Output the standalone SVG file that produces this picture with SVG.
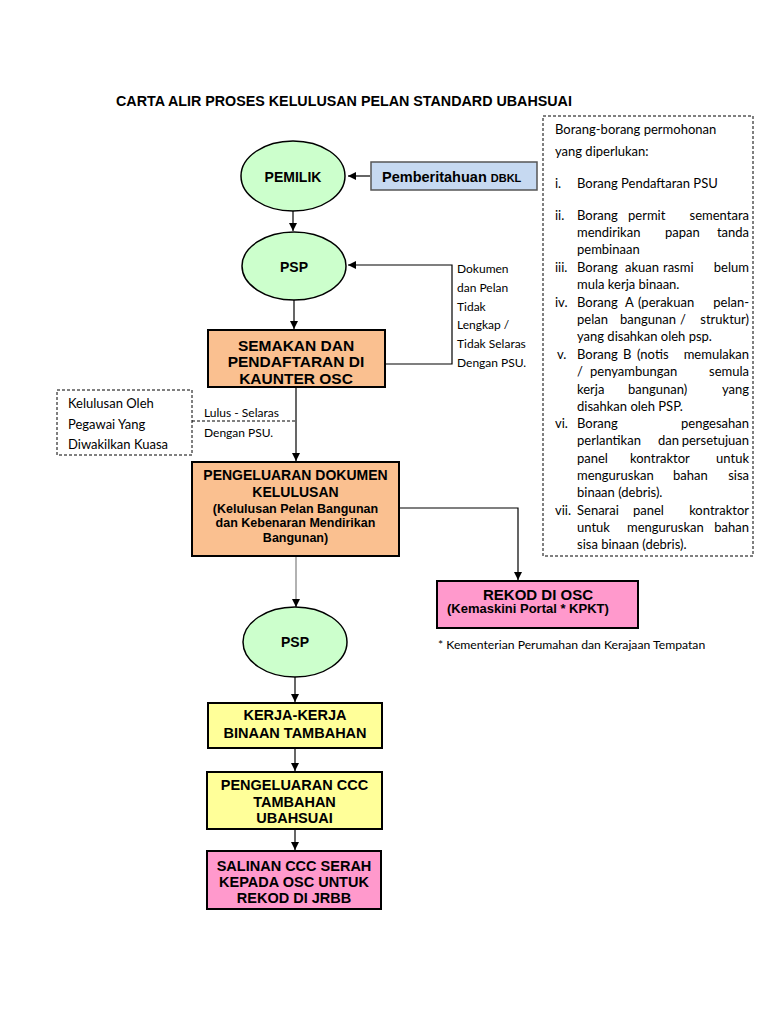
<svg xmlns="http://www.w3.org/2000/svg" width="768" height="1024" viewBox="0 0 768 1024">
<style>
.bg{fill:#ffffff}
.ell{fill:#ccffcc;stroke:#000;stroke-width:1.5}
.org{fill:#fac090;stroke:#000;stroke-width:2}
.yel{fill:#ffff99;stroke:#000;stroke-width:2}
.pnk{fill:#ff99cc;stroke:#000;stroke-width:2}
.blu{fill:#c6d9f1;stroke:#555;stroke-width:1.5}
.dash{fill:none;stroke:#000;stroke-width:1;stroke-dasharray:3 2}
.h{font-family:"Liberation Sans",Arial,sans-serif;font-weight:bold;fill:#000}
.c{text-anchor:middle}
.t{font-family:Lato,"Liberation Sans",sans-serif;fill:#000}
.e{text-anchor:end}
.ln{fill:none;stroke:#000;stroke-width:1.2}
.gr{fill:none;stroke:#999;stroke-width:1.5}
.dl{fill:none;stroke:#000;stroke-width:1;stroke-dasharray:3 2}
</style>
<defs>
<marker id="ah" markerUnits="userSpaceOnUse" markerWidth="9" markerHeight="9" refX="8" refY="4" orient="auto">
<path d="M0,0 L8,4 L0,8 z" fill="#000"/>
</marker>
</defs>
<rect class="bg" x="0" y="0" width="768" height="1024"/>

<text class="h" x="116" y="106" font-size="14.3">CARTA ALIR PROSES KELULUSAN PELAN STANDARD UBAHSUAI</text>

<g id="connectors">
<line class="ln" x1="370" y1="176" x2="348" y2="176" marker-end="url(#ah)"/>
<line class="ln" x1="293" y1="211" x2="293" y2="231" marker-end="url(#ah)"/>
<line class="ln" x1="294" y1="300" x2="294" y2="329" marker-end="url(#ah)"/>
<polyline class="ln" points="385,364 452,364 452,265 348,265" marker-end="url(#ah)"/>
<line class="ln" x1="296" y1="387" x2="296" y2="461" marker-end="url(#ah)"/>
<line class="dl" x1="192" y1="421" x2="296" y2="421"/>
<polyline class="ln" points="399,508 518,508 518,580" marker-end="url(#ah)"/>
<line class="gr" x1="296" y1="556" x2="296" y2="600"/>
<line class="ln" x1="296" y1="599" x2="296" y2="607" marker-end="url(#ah)"/>
<line class="ln" x1="295" y1="677" x2="295" y2="702" marker-end="url(#ah)"/>
<line class="ln" x1="295" y1="748" x2="295" y2="771" marker-end="url(#ah)"/>
<line class="ln" x1="295" y1="829" x2="295" y2="850" marker-end="url(#ah)"/>
</g>

<g id="pemilik">
<ellipse class="ell" cx="293" cy="176" rx="52" ry="35"/>
<text class="h c" x="293" y="182" font-size="14">PEMILIK</text>
</g>

<g id="pemberitahuan">
<rect class="blu" x="371" y="162" width="166" height="28"/>
<text class="h" x="382" y="182" font-size="14.5">Pemberitahuan <tspan font-size="11">DBKL</tspan></text>
</g>

<g id="psp1">
<ellipse class="ell" cx="294" cy="266" rx="52" ry="34"/>
<text class="h c" x="294" y="271.5" font-size="14">PSP</text>
</g>

<g id="semakan">
<rect class="org" x="208" y="330" width="177" height="57"/>
<text class="h c" x="296" y="350.5" font-size="15.5">SEMAKAN DAN</text>
<text class="h c" x="296" y="367" font-size="15.5">PENDAFTARAN DI</text>
<text class="h c" x="296" y="383.5" font-size="15.5">KAUNTER OSC</text>
</g>

<g id="nota-dokumen">
<text class="t" x="457" y="273" font-size="12">Dokumen</text>
<text class="t" x="457" y="292" font-size="12">dan Pelan</text>
<text class="t" x="457" y="311" font-size="12">Tidak</text>
<text class="t" x="457" y="329" font-size="12">Lengkap /</text>
<text class="t" x="457" y="348" font-size="12">Tidak Selaras</text>
<text class="t" x="457" y="367" font-size="12">Dengan PSU.</text>
</g>

<g id="kelulusan-pegawai">
<rect class="dash" x="57" y="390" width="135" height="65"/>
<text class="t" x="68" y="408" font-size="13">Kelulusan Oleh</text>
<text class="t" x="68" y="429" font-size="13">Pegawai Yang</text>
<text class="t" x="68" y="449" font-size="13">Diwakilkan Kuasa</text>
</g>

<g id="nota-lulus">
<text class="t" x="204" y="417" font-size="12">Lulus - Selaras</text>
<text class="t" x="204" y="437" font-size="12">Dengan PSU.</text>
</g>

<g id="pengeluaran-dokumen">
<rect class="org" x="192" y="462" width="207" height="94"/>
<text class="h c" x="295.5" y="480" font-size="14">PENGELUARAN DOKUMEN</text>
<text class="h c" x="295.5" y="497" font-size="14">KELULUSAN</text>
<text class="h c" x="295.5" y="512.5" font-size="12.5">(Kelulusan Pelan Bangunan</text>
<text class="h c" x="295.5" y="526.5" font-size="12.5">dan Kebenaran Mendirikan</text>
<text class="h c" x="295.5" y="541.5" font-size="12.5">Bangunan)</text>
</g>

<g id="rekod-osc">
<rect class="pnk" x="437" y="581" width="201" height="47"/>
<text class="h c" x="538" y="600" font-size="15">REKOD DI OSC</text>
<text class="h" x="447" y="613" font-size="13">(Kemaskini Portal * KPKT)</text>
</g>

<text class="t" x="438" y="649" font-size="12.2">* Kementerian Perumahan dan Kerajaan Tempatan</text>

<g id="psp2">
<ellipse class="ell" cx="295" cy="642" rx="52" ry="35"/>
<text class="h c" x="295" y="647" font-size="14">PSP</text>
</g>

<g id="kerja-binaan">
<rect class="yel" x="208" y="703" width="174" height="45"/>
<text class="h c" x="295" y="720" font-size="14.5">KERJA-KERJA</text>
<text class="h c" x="295" y="737.5" font-size="14.5">BINAAN TAMBAHAN</text>
</g>

<g id="pengeluaran-ccc">
<rect class="yel" x="207" y="772" width="175" height="57"/>
<text class="h c" x="294.5" y="790" font-size="14.5">PENGELUARAN CCC</text>
<text class="h c" x="294.5" y="807" font-size="14.5">TAMBAHAN</text>
<text class="h c" x="294.5" y="823" font-size="14.5">UBAHSUAI</text>
</g>

<g id="salinan-ccc">
<rect class="pnk" x="207" y="851" width="174" height="58"/>
<text class="h c" x="294" y="871" font-size="14.5">SALINAN CCC SERAH</text>
<text class="h c" x="294" y="887" font-size="14.5">KEPADA OSC UNTUK</text>
<text class="h c" x="294" y="903" font-size="14.5">REKOD DI JRBB</text>
</g>

<g id="borang-list" font-size="13">
<rect class="dash" x="543" y="116" width="210" height="440"/>
<text class="t" x="555" y="134">Borang-borang permohonan</text>
<text class="t" x="555" y="156">yang diperlukan:</text>

<text class="t" x="555" y="188">i.</text>
<text class="t" x="577" y="188">Borang Pendaftaran PSU</text>

<text class="t" x="555" y="220">ii.</text>
<text class="t" x="577" y="220">Borang</text><text class="t" x="628" y="220">permit</text><text class="t e" x="749" y="220">sementara</text>
<text class="t" x="577" y="237">mendirikan</text><text class="t" x="665" y="237">papan</text><text class="t e" x="749" y="237">tanda</text>
<text class="t" x="577" y="254">pembinaan</text>

<text class="t" x="555" y="272">iii.</text>
<text class="t" x="577" y="272">Borang</text><text class="t" x="625" y="272">akuan</text><text class="t" x="663" y="272">rasmi</text><text class="t e" x="749" y="272">belum</text>
<text class="t" x="577" y="289">mula kerja binaan.</text>

<text class="t" x="555" y="307">iv.</text>
<text class="t" x="577" y="307">Borang</text><text class="t" x="625" y="307">A</text><text class="t" x="638" y="307">(perakuan</text><text class="t e" x="749" y="307">pelan-</text>
<text class="t" x="577" y="324">pelan</text><text class="t" x="620" y="324">bangunan</text><text class="t" x="680" y="324">/</text><text class="t e" x="749" y="324">struktur)</text>
<text class="t" x="577" y="341">yang disahkan oleh psp.</text>

<text class="t" x="557" y="359">v.</text>
<text class="t" x="577" y="359">Borang</text><text class="t" x="623" y="359">B</text><text class="t" x="637" y="359">(notis</text><text class="t e" x="749" y="359">memulakan</text>
<text class="t" x="577" y="376">/</text><text class="t" x="590" y="376">penyambungan</text><text class="t e" x="749" y="376">semula</text>
<text class="t" x="577" y="394">kerja</text><text class="t" x="628" y="394">bangunan)</text><text class="t e" x="749" y="394">yang</text>
<text class="t" x="577" y="411">disahkan oleh PSP.</text>

<text class="t" x="555" y="428">vi.</text>
<text class="t" x="577" y="428">Borang</text><text class="t e" x="749" y="428">pengesahan</text>
<text class="t" x="577" y="445">perlantikan</text><text class="t" x="658" y="445">dan</text><text class="t e" x="749" y="445">persetujuan</text>
<text class="t" x="577" y="463">panel</text><text class="t" x="630" y="463">kontraktor</text><text class="t e" x="749" y="463">untuk</text>
<text class="t" x="577" y="480">menguruskan</text><text class="t" x="673" y="480">bahan</text><text class="t e" x="749" y="480">sisa</text>
<text class="t" x="577" y="497">binaan (debris).</text>

<text class="t" x="555" y="515">vii.</text>
<text class="t" x="577" y="515">Senarai</text><text class="t" x="633" y="515">panel</text><text class="t e" x="749" y="515">kontraktor</text>
<text class="t" x="577" y="532">untuk</text><text class="t" x="627" y="532">menguruskan</text><text class="t e" x="749" y="532">bahan</text>
<text class="t" x="577" y="549">sisa binaan (debris).</text>
</g>
</svg>
